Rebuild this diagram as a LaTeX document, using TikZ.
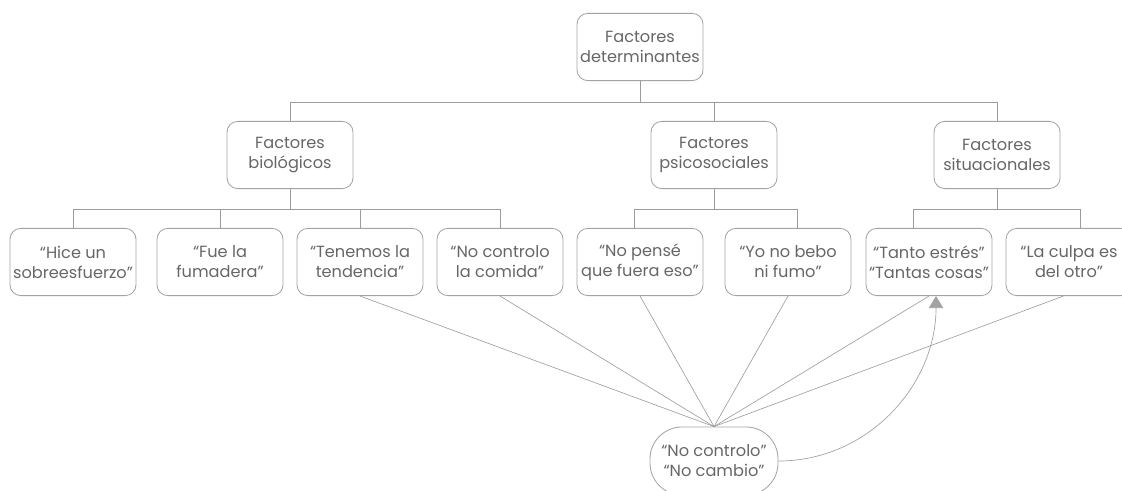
\documentclass[tikz,border=0pt]{standalone}
\usepackage{fontspec}
\setmainfont{Poppins}
\usetikzlibrary{positioning,arrows.meta}
\definecolor{boxgray}{HTML}{A3A3A3}
\definecolor{linegray}{HTML}{9C9C9C}
\definecolor{textgray}{HTML}{666666}
\tikzset{factorbox/.style={draw=boxgray, line width=0.6pt, rounded corners=0.27cm,
		minimum width=3.15cm, minimum height=1.68cm, inner sep=1pt, align=center,
		text=textgray, font=\fontsize{11.5}{14.2}\selectfont}}
\tikzset{quotebox/.style={factorbox}}
\tikzset{pillbox/.style={factorbox, rounded corners=0.8cm, minimum width=3.2cm, minimum height=1.7cm}}
\tikzset{treeline/.style={draw=linegray, line width=0.6pt}}
\tikzset{spoke/.style={draw=linegray, line width=0.45pt}}
\tikzset{backarrow/.style={draw=boxgray, line width=0.5pt, -{Triangle[width=0.36cm,length=0.3cm]}}}

\begin{document}
\begin{tikzpicture}[x=0.025cm, y=-0.025cm]
	\useasboundingbox (0,0) rectangle (1122,491);
	\clip (0,0) rectangle (1122,491);

	\node[factorbox] (det) at (640,47) {Factores\\determinantes};

	\node[factorbox] (bio) at (290,155) {Factores\\biológicos};
	\node[factorbox] (psi) at (714,155) {Factores\\psicosociales};
	\node[factorbox] (sit) at (997,155) {Factores\\situacionales};

	\node[quotebox] (hice) at (73,262) {“Hice un\\sobreesfuerzo”};
	\node[quotebox] (fue) at (220,262) {“Fue la\\fumadera”};
	\node[quotebox] (ten) at (360,262) {“Tenemos la\\tendencia”};
	\node[quotebox] (com) at (500,262) {“No controlo\\la comida”};
	\node[quotebox] (pense) at (640,262) {“No pensé\\que fuera eso”};
	\node[quotebox] (bebo) at (788,262) {“Yo no bebo\\ni fumo”};
	\node[quotebox] (tanto) at (929,262) {“Tanto estrés”\\“Tantas cosas”};
	\node[quotebox] (culpa) at (1069,262) {“La culpa es\\del otro”};

	\node[pillbox] (nocon) at (714,461) {“No controlo”\\“No cambio”};

	% arbol
	\draw[treeline] (det.south) -- ++(0,21) -| (bio.north);
	\draw[treeline] (det.south) -- ++(0,21) -| (psi.north);
	\draw[treeline] (det.south) -- ++(0,21) -| (sit.north);
	\foreach \leaf in {hice,fue,ten,com}
		\draw[treeline] (bio.south) -- ++(0,20) -| (\leaf.north);
	\draw[treeline] (psi.south) -- ++(0,20) -| ([xshift=-4]pense.north);
	\draw[treeline] (psi.south) -- ++(0,20) -| ([xshift=7]bebo.north);
	\draw[treeline] (sit.south) -- ++(0,20) -| ([xshift=-11]tanto.north);
	\draw[treeline] (sit.south) -- ++(0,20) -| ([xshift=8]culpa.north);

	% rayos
	\foreach \leaf in {ten,com,pense,bebo,tanto}
		\draw[spoke] (\leaf.south) -- (nocon.north);
	\draw[spoke] ([xshift=-4]culpa.south) -- (nocon.north);

	\draw[backarrow] (nocon.east) to[out=0,in=-90] ([xshift=5]tanto.south);

\end{tikzpicture}
\end{document}
